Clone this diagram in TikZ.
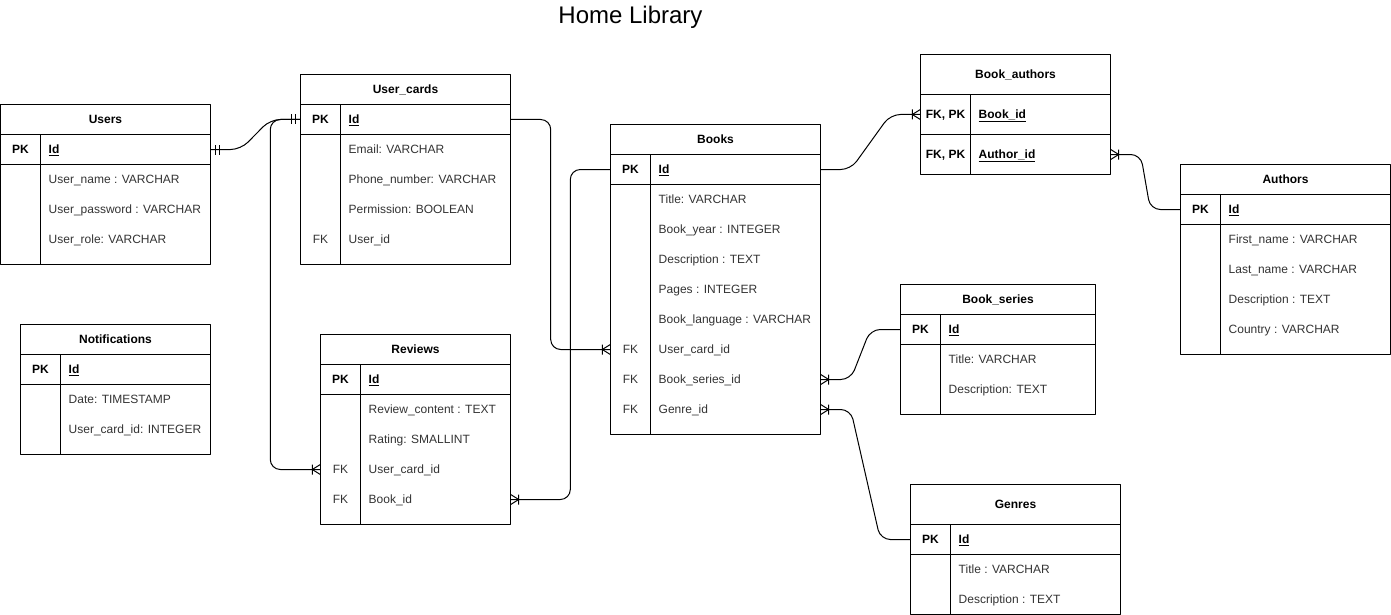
\documentclass[tikz,border=0pt]{standalone}
\usepackage{fontspec}
\setmainfont{Liberation Sans}
\usetikzlibrary{calc}

\pgfdeclarearrow{
  name=crowfoot,
  setup code={
    \pgfarrowssettipend{0pt}
    \pgfarrowssetlineend{0pt}
    \pgfarrowssetbackend{-8pt}
    \pgfarrowssetvisualbackend{-8pt}
    \pgfarrowshullpoint{0pt}{5pt}
    \pgfarrowshullpoint{0pt}{-5pt}
    \pgfarrowshullpoint{-8pt}{5pt}
    \pgfarrowshullpoint{-8pt}{-5pt}
  },
  drawing code={
    \pgfpathmoveto{\pgfqpoint{0pt}{5pt}}
    \pgfpathlineto{\pgfqpoint{-8pt}{0pt}}
    \pgfpathlineto{\pgfqpoint{0pt}{-5pt}}
    \pgfpathmoveto{\pgfqpoint{-8pt}{5pt}}
    \pgfpathlineto{\pgfqpoint{-8pt}{-5pt}}
    \pgfusepathqstroke
  }
}
\pgfdeclarearrow{
  name=mandone,
  setup code={
    \pgfarrowssettipend{0pt}
    \pgfarrowssetlineend{0pt}
    \pgfarrowssetbackend{-9pt}
    \pgfarrowssetvisualbackend{-9pt}
    \pgfarrowshullpoint{0pt}{5pt}
    \pgfarrowshullpoint{0pt}{-5pt}
    \pgfarrowshullpoint{-9pt}{5pt}
    \pgfarrowshullpoint{-9pt}{-5pt}
  },
  drawing code={
    \pgfpathmoveto{\pgfqpoint{-5pt}{5pt}}
    \pgfpathlineto{\pgfqpoint{-5pt}{-5pt}}
    \pgfpathmoveto{\pgfqpoint{-9pt}{5pt}}
    \pgfpathlineto{\pgfqpoint{-9pt}{-5pt}}
    \pgfusepathqstroke
  }
}

\begin{document}
\begin{tikzpicture}[x=1pt,y=-1pt,line join=round,font=\fontsize{12}{14}\selectfont,
	tabline/.style={line width=1pt},
	link/.style={line width=1pt,rounded corners=10pt},
	tabhead/.style={inner sep=0pt,text height=8.6pt,text depth=0pt},
	tabrow/.style={inner sep=0pt,minimum height=30pt},
	keytxt/.style={inner sep=0pt,text=black!80,text height=8.6pt,text depth=0pt},
	fldtxt/.style={anchor=west,inner sep=0pt,text=black!80,text height=8.6pt,text depth=0pt}]
	\useasboundingbox (-0.5,-0.5) rectangle (1390.5,614.5);
	% name, left, top, width, header height, bottom, title, rows
	\def\ertab#1#2#3#4#5#6#7#8{
		\node[tabhead,minimum width=#4,minimum height=#5] (#1) at ({#2+#4/2},{#3+#5/2}) {\textbf{#7}};
		\draw[tabline] (#2,#3) rectangle ({#2+#4},#6);
		\draw[tabline] (#2,{#3+#5})--({#2+#4},{#3+#5});
		\draw[tabline] (#2,{#3+#5+30})--({#2+#4},{#3+#5+30});
		\draw[tabline] ({#2+40},{#3+#5})--({#2+40},#6);
		\node[tabrow,minimum width=#4] (#1-0) at ({#2+#4/2},{#3+#5+15}) {};
		\node[keytxt,text=black] (#1-k0) at ({#2+20},{#3+#5+15}) {\textbf{PK}};
		\node[fldtxt,text=black] (#1-f0) at ({#2+48},{#3+#5+15}) {\textbf{\underline{Id}}};
		\foreach \kk/\ff [count=\i] in {#8}{
			\node[tabrow,minimum width=#4] (#1-\i) at ({#2+#4/2},{#3+#5+15+30*\i}) {};
			\node[keytxt] (#1-k\i) at ({#2+20},{#3+#5+15+30*\i}) {\kk};
			\node[fldtxt] (#1-f\i) at ({#2+48},{#3+#5+15+30*\i}) {\ff};
		}
	}
	\node[anchor=base] (ttl) at (630,23) {\fontsize{24}{28}\selectfont Home Library};
	
	\ertab{us}{0}{104}{210}{30}{264}{Users}{/User\_name : VARCHAR,/User\_password : VARCHAR,/User\_role: VARCHAR}
	\ertab{uc}{300}{74}{210}{30}{264}{User\_cards}{/Email: VARCHAR,/Phone\_number: VARCHAR,/Permission: BOOLEAN,FK/User\_id}
	\ertab{nt}{20}{324}{190}{30}{454}{Notifications}{/Date: TIMESTAMP,/User\_card\_id: INTEGER}
	\ertab{rv}{320}{334}{190}{30}{524}{Reviews}{/Review\_content : TEXT,/Rating: SMALLINT,FK/User\_card\_id,FK/Book\_id}
	\ertab{bk}{610}{124}{210}{30}{434}{Books}{/Title: VARCHAR,/Book\_year : INTEGER,/Description : TEXT,/Pages : INTEGER,/Book\_language : VARCHAR,FK/User\_card\_id,FK/Book\_series\_id,FK/Genre\_id}
	\ertab{au}{1180}{164}{210}{30}{354}{Authors}{/First\_name : VARCHAR,/Last\_name : VARCHAR,/Description : TEXT,/Country : VARCHAR}
	\ertab{bs}{900}{284}{195}{30}{414}{Book\_series}{/Title: VARCHAR,/Description: TEXT}
	\ertab{gn}{910}{484}{210}{40}{614}{Genres}{/Title : VARCHAR,/Description : TEXT}
	
	% link table
	\node[tabhead,minimum width=190,minimum height=40] (ba) at (1015,74) {\textbf{Book\_authors}};
	\draw[tabline] (920,54) rectangle (1110,174);
	\draw[tabline] (920,94)--(1110,94) (920,134)--(1110,134) (970,94)--(970,174);
	\node[tabrow,minimum width=190,minimum height=40] (ba-1) at (1015,114) {};
	\node[tabrow,minimum width=190,minimum height=40] (ba-2) at (1015,154) {};
	\node[keytxt,text=black] (ba-k1) at (945,114) {\textbf{FK, PK}};
	\node[keytxt,text=black] (ba-k2) at (945,154) {\textbf{FK, PK}};
	\node[fldtxt,text=black] (ba-f1) at (978,114) {\textbf{\underline{Book\_id}}};
	\node[fldtxt,text=black] (ba-f2) at (978,154) {\textbf{\underline{Author\_id}}};
	
	\draw[link,mandone-mandone] (us-0.east)--++(30,0)--($(uc-0.west)+(-30,0)$)--(uc-0.west);
	\draw[link,-crowfoot] (uc-0.east)--++(40,0)|-(bk-6.west);
	\draw[link,-crowfoot] (uc-0.west)--++(-30,0)|-(rv-3.west);
	\draw[link,-crowfoot] (bk-0.west)--++(-40,0)|-(rv-4.east);
	\draw[link,-crowfoot] (bk-0.east)--++(30,0)--($(ba-1.west)+(-30,0)$)--(ba-1.west);
	\draw[link,-crowfoot] (au-0.west)--++(-30,0)--($(ba-2.east)+(30,0)$)--(ba-2.east);
	\draw[link,-crowfoot] (bs-0.west)--++(-30,0)--($(bk-7.east)+(30,0)$)--(bk-7.east);
	\draw[link,-crowfoot] (gn-0.west)--++(-30,0)--($(bk-8.east)+(30,0)$)--(bk-8.east);
\end{tikzpicture}
\end{document}
